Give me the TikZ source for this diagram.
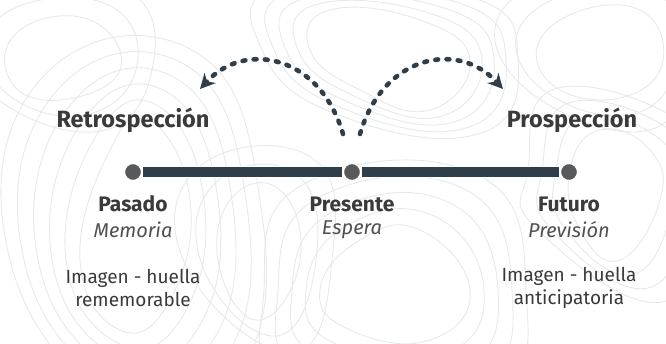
\documentclass[tikz,border=0pt]{standalone}
\usepackage{fontspec}
\setmainfont{Fira Sans}
\usetikzlibrary{arrows.meta}
\definecolor{bar}{HTML}{2E3E4B}
\definecolor{dotc}{HTML}{58595B}
\definecolor{txt}{HTML}{3A3A3A}
\definecolor{txtl}{HTML}{505050}
\definecolor{topo}{HTML}{E6E9EC}
\tikzset{
  tdot/.style={circle,fill=dotc,draw=white,line width=1.2pt,minimum size=17pt,inner sep=0pt},
  hd/.style={font=\fontsize{23.5}{26}\selectfont\bfseries,text=txt},
  sub/.style={font=\fontsize{21}{24}\selectfont\bfseries,text=txt},
  it/.style={font=\fontsize{20}{23}\selectfont\itshape,text=txtl},
  body/.style={font=\fontsize{19}{23}\selectfont,text=txt,align=center},
  arc/.style={draw=bar,line width=4.6pt,line cap=round,dash pattern=on 2.8pt off 8.4pt,-{Stealth[length=15pt,width=15pt,line cap=butt]}},
  topol/.style={draw=topo,line width=0.9pt}
}
\begin{document}
\begin{tikzpicture}[x=1pt,y=-1pt]
\useasboundingbox[fill=white] (0,0) rectangle (666,343);
% background contours
\foreach \s in {0,14,28,42,56,70}{
  \draw[topol] plot[smooth cycle,tension=0.8] coordinates {(110-\s,150-\s) (150+\s*0.6,120-\s) (190+\s,200) (170+\s,300+\s) (120,330+\s) (80-\s,260)};
}
\foreach \s in {0,12,24,36,48}{
  \draw[topol] plot[smooth cycle,tension=0.8] coordinates {(330-\s,10-\s*0.5) (420+\s,20-\s*0.5) (470+\s,60) (430+\s,110+\s*0.5) (360-\s*0.5,90+\s*0.5) (310-\s,50)};
}
\foreach \s in {0,14,28,42}{
  \draw[topol] plot[smooth cycle,tension=0.8] coordinates {(600-\s,130-\s) (650+\s,150-\s*0.5) (660+\s,200) (620+\s,260+\s) (580-\s,230) (570-\s,170)};
}
\foreach \s in {0,14,28,42,56}{
  \draw[topol] plot[smooth cycle,tension=0.8] coordinates {(360-\s,240-\s) (420+\s,230-\s) (470+\s,290) (430+\s,340+\s) (350-\s,330+\s) (320-\s,290)};
}
\foreach \s in {0,16,32}{
  \draw[topol] plot[smooth cycle,tension=0.8] coordinates {(20-\s,30-\s) (90+\s,20-\s) (120+\s,70) (60+\s,100+\s) (10-\s,80)};
  \draw[topol] plot[smooth cycle,tension=0.8] coordinates {(560-\s,20-\s) (640+\s,10-\s) (660+\s,70) (600+\s,100+\s) (540-\s,70)};
}
\foreach \s in {0,16,32}{
  \draw[topol] plot[smooth cycle,tension=0.8] coordinates {(230-\s,200-\s) (280+\s,190-\s) (300+\s,260) (260+\s,320+\s) (220-\s,270)};
}
% timeline
\node[tdot] (p) at (133,172) {};
\node[tdot] (c) at (352,172) {};
\node[tdot] (f) at (569,172) {};
\draw[draw=white,line width=12pt] (p.east) -- (c.west);
\draw[draw=white,line width=12pt] (c.east) -- (f.west);
\draw[draw=bar,line width=10pt] ([xshift=1pt]p.east) -- ([xshift=-1pt]c.west);
\draw[draw=bar,line width=10pt] ([xshift=1pt]c.east) -- ([xshift=-1pt]f.west);
% top labels
\node[hd] (retro) at (133,120) {Retrospección};
\node[hd] (pros) at (572,120) {Prospección};
% labels
\node[sub] (pa) at (133,204) {Pasado};
\node[it] (me) at (133,230) {Memoria};
\node[body] (im1) at (133,288) {Imagen - huella\\rememorable};
\node[sub] (pr) at (352,204) {Presente};
\node[it] (es) at (352,230) {Espera};
\node[sub] (fu) at (569,204) {Futuro};
\node[it] (pv) at (569,230) {Previsión};
\node[body] (im2) at (569,288) {Imagen - huella\\anticipatoria};
% arcs
\coordinate (ls) at (343,134);
\coordinate (le) at (200,89);
\coordinate (rs) at (360,134);
\coordinate (re) at (503,89);
\draw[arc] (ls) .. controls (320,55) and (245,40) .. (le);
\draw[arc] (rs) .. controls (383,55) and (458,40) .. (re);
\end{tikzpicture}
\end{document}
